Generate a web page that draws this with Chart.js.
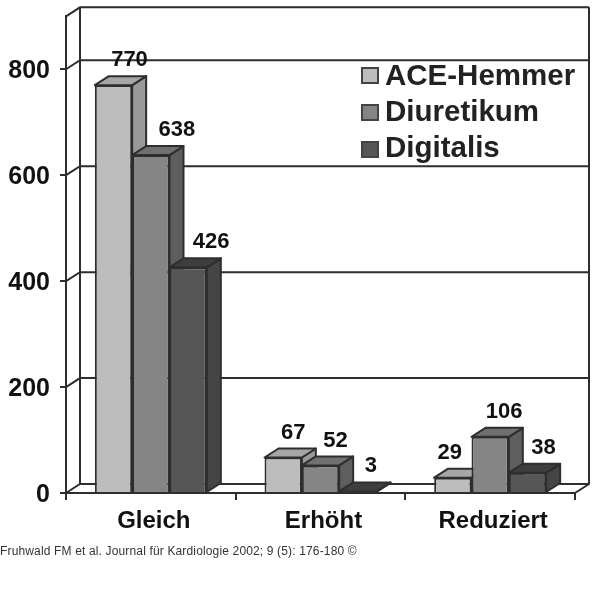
<!DOCTYPE html>
<html>
<head>
<meta charset="utf-8">
<style>
  html, body { margin: 0; padding: 0; background: #fff; }
  #wrap { width: 600px; height: 600px; }
</style>
<script src="https://cdn.jsdelivr.net/npm/chart.js@4"></script>
</head>
<body>
<div id="wrap"><canvas id="chart"></canvas></div>
<script>
const categories = ["Gleich", "Erhöht", "Reduziert"];
const aceHemmer = [770, 67, 29];
const diuretikum = [638, 52, 106];
const digitalis = [426, 3, 38];
const citation = "Fruhwald FM et al. Journal für Kardiologie 2002; 9 (5): 176-180 ©";

const FONT = '"Liberation Sans", Arial, sans-serif';
const LINE = "#2e2e2e";
const DX = 14; // depth of the 3D effect
const DY = 9;

// label nudges to the right of the bar centre, same order as the data
const labelShift = [
  [16, 10, -3],
  [26, 15, 14],
  [23, 13, 16],
];

function poly(ctx, pts, fill) {
  ctx.beginPath();
  pts.forEach((p, i) => (i ? ctx.lineTo(p[0], p[1]) : ctx.moveTo(p[0], p[1])));
  ctx.closePath();
  ctx.fillStyle = fill;
  ctx.fill();
  ctx.stroke();
}

const wallPlugin = {
  id: "wall",
  // back wall and floor, behind the bars
  beforeDatasetsDraw(chart) {
    const { ctx, chartArea: a, scales } = chart;
    ctx.save();
    ctx.strokeStyle = LINE;
    ctx.lineWidth = 2;
    const ys = scales.y.ticks.map((t) => scales.y.getPixelForValue(t.value));
    ys.push(a.top);
    ys.forEach((y) => {
      ctx.beginPath();
      ctx.moveTo(a.left, y);
      ctx.lineTo(a.left + DX, y - DY);
      ctx.lineTo(a.right + DX, y - DY);
      ctx.stroke();
    });
    ctx.beginPath();
    ctx.moveTo(a.left + DX, a.top - DY);
    ctx.lineTo(a.left + DX, a.bottom - DY);
    ctx.moveTo(a.right + DX, a.top - DY);
    ctx.lineTo(a.right + DX, a.bottom - DY);
    ctx.lineTo(a.right, a.bottom);
    ctx.stroke();
    ctx.restore();
  },
  // the library draws the last series on top, here the first has to go first
  beforeDatasetDraw() {
    return false;
  },
  afterDatasetsDraw(chart) {
    const { ctx } = chart;
    ctx.save();
    ctx.lineJoin = "round";
    chart.data.datasets.forEach((ds, i) => {
      chart.getDatasetMeta(i).data.forEach((bar) => {
        const l = bar.x - bar.width / 2;
        const r = bar.x + bar.width / 2;
        ctx.strokeStyle = LINE;
        ctx.lineWidth = 2;
        poly(ctx, [[r, bar.y], [r + DX, bar.y - DY], [r + DX, bar.base - DY], [r, bar.base]], ds.sideColor);
        poly(ctx, [[l, bar.y], [l + DX, bar.y - DY], [r + DX, bar.y - DY], [r, bar.y]], ds.topColor);
        bar.draw(ctx);
      });
    });
    ctx.restore();
  },
  afterDraw(chart) {
    const { ctx } = chart;
    ctx.save();
    // value labels
    ctx.font = "bold 22px " + FONT;
    ctx.textAlign = "center";
    ctx.textBaseline = "middle";
    ctx.fillStyle = "#111";
    chart.data.datasets.forEach((ds, i) => {
      chart.getDatasetMeta(i).data.forEach((bar, j) => {
        ctx.fillText(ds.data[j], bar.x + labelShift[i][j], bar.y - 25);
      });
    });
    // legend
    ctx.textAlign = "left";
    ctx.font = "bold 29.5px " + FONT;
    ctx.strokeStyle = "#444";
    ctx.lineWidth = 2;
    chart.data.datasets.forEach((ds, i) => {
      const y = 68 + i * 37;
      ctx.fillStyle = ds.backgroundColor;
      ctx.fillRect(362, y, 16, 15);
      ctx.strokeRect(362, y, 16, 15);
      ctx.fillStyle = "#222";
      ctx.fillText(ds.label, 385, 77 + i * 36);
    });
    // source line
    ctx.fillStyle = "#333";
    ctx.font = "12px " + FONT;
    ctx.letterSpacing = "0.15px";
    ctx.fillText(citation, 0, 551.5);
    ctx.restore();
  },
};

new Chart(document.getElementById("chart"), {
  type: "bar",
  data: {
    labels: categories,
    datasets: [
      { label: "ACE-Hemmer", data: aceHemmer, backgroundColor: "#bdbdbd", topColor: "#a6a6a6", sideColor: "#999999" },
      { label: "Diuretikum", data: diuretikum, backgroundColor: "#858585", topColor: "#707070", sideColor: "#5e5e5e" },
      { label: "Digitalis", data: digitalis, backgroundColor: "#565656", topColor: "#3e3e3e", sideColor: "#454545" },
    ],
  },
  plugins: [wallPlugin],
  options: {
    responsive: true,
    maintainAspectRatio: false,
    animation: false,
    layout: { padding: { left: 0, right: 25, top: 16.3, bottom: 60 } },
    datasets: {
      bar: {
        categoryPercentage: 0.66,
        barPercentage: 1,
        borderColor: LINE,
        borderWidth: 2,
      },
    },
    plugins: {
      legend: { display: false },
      tooltip: { enabled: false },
    },
    scales: {
      x: {
        afterFit: (axis) => { axis.height = 47; },
        border: { color: LINE, width: 2 },
        grid: { drawOnChartArea: false, color: LINE, lineWidth: 2, tickLength: 7 },
        ticks: { color: "#111", padding: 7, labelOffset: 3, maxRotation: 0, font: { family: FONT, size: 24, weight: "bold" } },
      },
      y: {
        min: 0,
        max: 900,
        afterFit: (axis) => {
          axis.width = 66;
          axis.paddingTop = 0;
        },
        afterBuildTicks: (axis) => { axis.ticks = axis.ticks.filter((t) => t.value % 200 === 0); },
        border: { color: LINE, width: 2 },
        grid: { drawOnChartArea: false, color: LINE, lineWidth: 2, tickLength: 6 },
        ticks: { stepSize: 200, color: "#111", padding: 10, labelOffset: 2, font: { family: FONT, size: 25, weight: "bold" } },
      },
    },
  },
});
</script>
</body>
</html>
